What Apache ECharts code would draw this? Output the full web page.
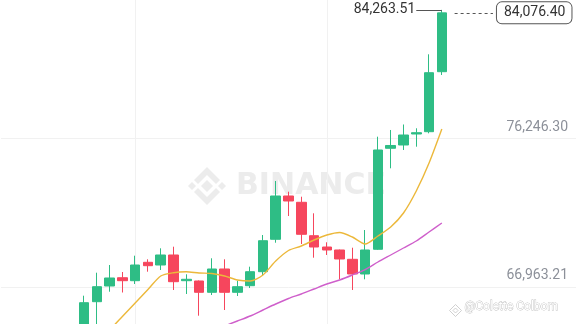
<!DOCTYPE html>
<html>
<head>
<meta charset="utf-8">
<script src="https://cdn.jsdelivr.net/npm/echarts@6/dist/echarts.min.js"></script>
<style>
html,body{margin:0;padding:0;background:#fff;}
#c{width:576px;height:324px;}
</style>
</head>
<body>
<div id="c"></div>
<script>
// ---- data ----
const categories = ['10/14','10/15','10/16','10/17','10/18','10/19','10/20','10/21','10/22','10/23',
  '10/24','10/25','10/26','10/27','10/28','10/29','10/30','10/31','11/01','11/02',
  '11/03','11/04','11/05','11/06','11/07','11/08','11/09','11/10','11/11'];
const open  = [63966,66045,67025,67543,67356,68505,68336,68961,67356,67338,66632,68087,66632,67044,67918,69941,72644,72251,70165,69460,69273,68692,67775,69317,75622,75828,76515,76658,80404];
const close = [65983,66982,67525,67356,68336,68293,68961,67294,67444,66632,68087,66632,66982,67918,69853,72644,72332,70253,69460,69273,68711,67775,69273,75516,75797,76452,76596,80342,84076.40];
const low   = [63654,64528,66669,66619,67150,67918,68024,66776,66526,65171,66463,65527,66401,66900,67712,69728,71395,69647,68792,68961,67444,66776,67444,69280,74373,75516,75722,76558,80198];
const high  = [66420,67856,68336,67899,68917,68692,69379,69479,67756,67370,68755,68692,67356,68230,70209,73581,72913,72600,71564,69754,69300,69416,70521,76346,76765,77108,76871,81490,84263.51];
const maFast = [62655,63467,64278,65121,65964,66807,67650,67856,67918,67837,67806,67650,67400,67338,67712,68586,69242,69523,69897,70209,70365,70084,69647,70147,70709,71583,72956,74704,76827];
const maSlow = [60970,61282,61594,61906,62219,62531,62843,63186,63529,63873,64216,64528,64840,65152,65527,65901,66245,66526,66838,67150,67400,67712,68055,68523,68960,69397,69835,70397,70958];
const gridPrices = [76246.30, 66963.21];
const gridCandles = [4, 19];
const lastPrice = 84076.40;
const highPrice = 84263.51;

// ---- layout ----
const PAD_BEFORE = 6, PAD_AFTER = 10;
const axisCats = [];
for (let i = 0; i < PAD_BEFORE; i++) axisCats.push('b' + i);
categories.forEach(c => axisCats.push(c));
for (let i = 0; i < PAD_AFTER; i++) axisCats.push('a' + i);
const pad = arr => Array(PAD_BEFORE).fill('-').concat(arr, Array(PAD_AFTER).fill('-'));

const candles = pad(categories.map((c, i) => [open[i], close[i], low[i], high[i]]));
const fmt = v => v.toLocaleString('en-US', {minimumFractionDigits: 2, maximumFractionDigits: 2});
const lastIdx = PAD_BEFORE + categories.length - 1;

const UP = '#2ebd85', DOWN = '#f6465d';
const FONT = 'Roboto';

const chart = echarts.init(document.getElementById('c'), null, {renderer: 'canvas'});
chart.setOption({
  animation: false,
  backgroundColor: '#ffffff',
  grid: {left: 1, right: 0, top: 0, bottom: 0},
  xAxis: {
    type: 'category', data: axisCats, boundaryGap: true,
    axisLine: {show: false}, axisTick: {show: false}, axisLabel: {show: false}, splitLine: {show: false}
  },
  yAxis: {
    type: 'value', min: 64653, max: 84880, scale: true,
    axisLine: {show: false}, axisTick: {show: false}, axisLabel: {show: false}, splitLine: {show: false}
  },
  graphic: [
    {type: 'group', left: 188, top: 167, z: 0, silent: true, children: [
      {type: 'polygon', shape: {points: [[19,0],[32,13],[28,17],[19,8],[10,17],[6,13]]}, style: {fill: '#ececec'}},
      {type: 'polygon', shape: {points: [[19,38],[32,25],[28,21],[19,30],[10,21],[6,25]]}, style: {fill: '#ececec'}},
      {type: 'polygon', shape: {points: [[19,13],[25,19],[19,25],[13,19]]}, style: {fill: '#ececec'}},
      {type: 'polygon', shape: {points: [[0,19],[4,15],[8,19],[4,23]]}, style: {fill: '#ececec'}},
      {type: 'polygon', shape: {points: [[30,19],[34,15],[38,19],[34,23]]}, style: {fill: '#ececec'}}
    ]},
    {type: 'text', left: 236, top: 171, z: 0, silent: true,
      style: {text: 'BINANCE', font: 'bold 30px "DejaVu Sans"', fill: '#ececec'}},
    {type: 'group', left: 447, top: 302, z: 0, silent: true, children: [
      {type: 'polygon', shape: {points: [[6,0],[12,6],[6,12],[0,6]]}, style: {fill: 'none', stroke: '#c4c4c4', lineWidth: 0.8}},
      {type: 'polygon', shape: {points: [[6,3.5],[8.5,6],[6,8.5],[3.5,6]]}, style: {fill: 'none', stroke: '#c4c4c4', lineWidth: 0.8}}
    ]},
    {type: 'text', left: 464, top: 301, z: 0, silent: true,
      style: {text: '@Colette Colborn', font: '12px Roboto', fill: '#ffffff', stroke: '#c0c0c0', lineWidth: 0.8}}
  ],
  series: [
    {
      type: 'candlestick', name: 'K', data: candles, barWidth: 10, z: 2, clip: true,
      itemStyle: {color: UP, color0: DOWN, borderColor: UP, borderColor0: DOWN, borderWidth: 1},
      markLine: {
        z: 6, silent: true, symbol: 'none', animation: false,
        data: [
          [{coord: [lastIdx + 1, lastPrice], lineStyle: {type: [3, 3], color: '#555', width: 1},
             label: {show: true, position: 'end', distance: 4, formatter: fmt(lastPrice),
               color: '#333', fontFamily: FONT, fontSize: 14, backgroundColor: '#fff',
               borderColor: '#555', borderWidth: 1, borderRadius: 5, padding: [4, 6, 3, 7]}},
           {coord: [lastIdx + 4, lastPrice]}],
          [{coord: [lastIdx - 2, highPrice], lineStyle: {type: 'solid', color: '#555', width: 1},
             label: {show: true, position: 'start', distance: 1, formatter: fmt(highPrice),
               color: '#333', fontFamily: FONT, fontSize: 14}},
           {coord: [lastIdx, highPrice]}]
        ]
      }
    },
    {
      type: 'line', name: 'MA7', data: pad(maFast), showSymbol: false, symbol: 'none', smooth: 0.25, z: 3,
      lineStyle: {color: '#ecb83a', width: 1.4},
      markLine: {
        z: 1, silent: true, symbol: 'none', animation: false,
        lineStyle: {color: '#f1f1f1', width: 1, type: 'solid'},
        data: gridPrices.map(p => ({yAxis: p,
            label: {show: true, position: 'insideEndTop', distance: [8, 4], formatter: fmt(p),
              color: '#8c9099', fontFamily: FONT, fontSize: 14}}))
          .concat(gridCandles.map(i => ({xAxis: PAD_BEFORE + i, label: {show: false}})))
      }
    },
    {
      type: 'line', name: 'MA25', data: pad(maSlow), showSymbol: false, symbol: 'none', smooth: 0.25, z: 3,
      lineStyle: {color: '#cf5fcb', width: 1.4}
    }
  ]
});
</script>
</body>
</html>
